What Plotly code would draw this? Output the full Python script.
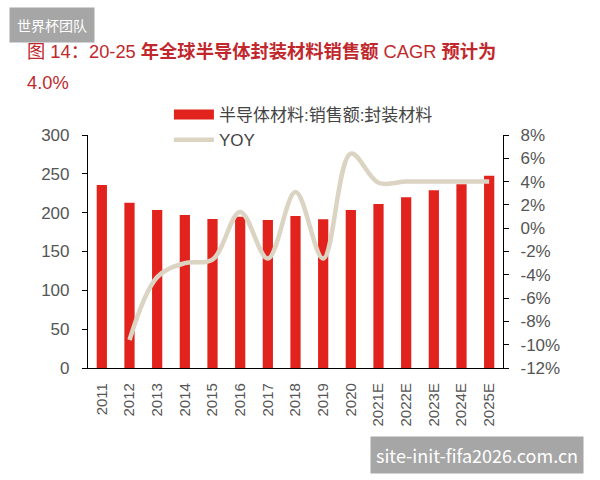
import plotly.graph_objects as go

years = ["2011", "2012", "2013", "2014", "2015", "2016", "2017", "2018", "2019", "2020",
         "2021E", "2022E", "2023E", "2024E", "2025E"]
sales = [235.5, 212.8, 203.4, 197.0, 191.8, 194.8, 190.5, 195.7, 191.4, 203.4,
         211.0, 219.7, 228.8, 236.5, 247.6]
yoy_years = years[1:]
yoy = [-9.6, -4.2, -3.0, -2.7, 1.4, -2.6, 3.1, -2.6, 6.4, 3.9, 4.0, 4.0, 4.0, 4.0]
left_ticks = [0, 50, 100, 150, 200, 250, 300]
right_ticks = [-12, -10, -8, -6, -4, -2, 0, 2, 4, 6, 8]

bar_name = "半导体材料:销售额:封装材料"
line_name = "YOY"
RED = "#E2231D"
BEIGE = "#DCD4C3"
TXT = "#555555"
LATIN = "Liberation Sans, Arial, Noto Sans CJK SC"

fig = go.Figure()
fig.add_trace(go.Bar(x=years, y=sales, name=bar_name, marker=dict(color=RED, line=dict(width=0)),
                     showlegend=False, yaxis="y"))
# legend stand-in for bars (wide swatch as in reference)
fig.add_trace(go.Scatter(x=[None], y=[None], mode="lines", name=bar_name,
                         line=dict(color=RED, width=10), yaxis="y"))
fig.add_trace(go.Scatter(x=yoy_years, y=yoy, name=line_name, mode="lines",
                         line=dict(color=BEIGE, width=4.5, shape="spline", smoothing=1.0),
                         yaxis="y2"))

fig.update_layout(
    width=600, height=480,
    margin=dict(l=88, r=97, t=135, b=112),
    paper_bgcolor="white", plot_bgcolor="white",
    bargap=0.63,
    font=dict(family=LATIN, size=15, color=TXT),
    xaxis=dict(type="category", showline=True, linecolor="black", linewidth=1.2,
               ticks="", tickangle=-90, showgrid=False, ticklabelstandoff=8,
               tickfont=dict(size=15, color=TXT)),
    yaxis=dict(range=[0, 300], tickvals=left_ticks, ticktext=[str(v) for v in left_ticks],
               showline=True, linecolor="black", linewidth=1.2,
               ticks="outside", ticklen=5, tickcolor="black", showgrid=False, zeroline=False,
               ticklabelstandoff=9, tickfont=dict(size=17, color=TXT)),
    yaxis2=dict(range=[-12, 8], tickvals=right_ticks,
                ticktext=[f"{v}%" for v in right_ticks],
                overlaying="y", side="right",
                showline=True, linecolor="black", linewidth=1.2,
                ticks="outside", ticklen=5, tickcolor="black", showgrid=False, zeroline=False,
                ticklabelstandoff=8, tickfont=dict(size=17, color=TXT)),
    legend=dict(x=0.195, y=1.163, xanchor="left", yanchor="top", bgcolor="rgba(0,0,0,0)",
                font=dict(size=17, color="#444444", family=LATIN),
                itemwidth=40, tracegroupgap=0),
)

TITLE_RED = "#C0282D"
title1 = ("图 14：20-25 <b>年全球半导体封装材料销售额</b> CAGR <b>预计为</b>")
fig.add_annotation(xref="paper", yref="paper", x=(25-88)/415, y=(368-52)/233, xanchor="left",
                   yanchor="middle", text=title1, showarrow=False,
                   font=dict(size=18.3, color=TITLE_RED, family=LATIN))
fig.add_annotation(xref="paper", yref="paper", x=(25-88)/415, y=(368-83)/233, xanchor="left",
                   yanchor="middle", text="4.0%", showarrow=False,
                   font=dict(size=18.3, color=TITLE_RED, family=LATIN))

# watermarks
fig.add_annotation(xref="paper", yref="paper", x=(9-88)/415, y=(368-25)/233, xanchor="left",
                   yanchor="middle", text="世界杯团队", showarrow=False, bgcolor="#A6A6A6",
                   borderpad=7, font=dict(size=14, color="white", family="Noto Sans CJK SC"))
fig.add_annotation(xref="paper", yref="paper", x=(370-88)/415, y=(368-455)/233, xanchor="left",
                   yanchor="middle", text="site-init-fifa2026.com.cn", showarrow=False,
                   bgcolor="#A6A6A6", borderpad=5,
                   font=dict(size=18, color="white", family="Noto Sans CJK SC"))

fig.write_html("out.html")
